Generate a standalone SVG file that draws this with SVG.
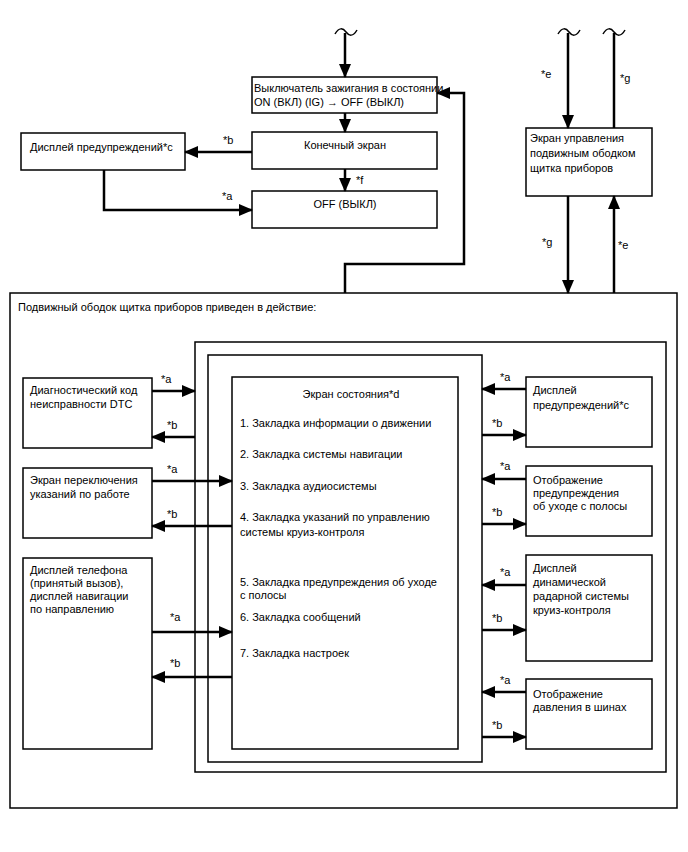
<svg xmlns="http://www.w3.org/2000/svg" width="688" height="852" viewBox="0 0 688 852">
<style>
.box{fill:#fff;stroke:#000;stroke-width:1.5}
.t{font-family:"Liberation Sans",Arial,sans-serif;font-size:11px;fill:#000}
.m{text-anchor:middle}
.c{stroke:#000;stroke-width:2.5;fill:none}
.tl{stroke:#000;stroke-width:1.5;fill:none}
</style>
<defs>
<marker id="ar" markerUnits="userSpaceOnUse" markerWidth="14" markerHeight="12" viewBox="0 0 14 12" refX="13" refY="6" orient="auto">
<path d="M0,0 L14,6 L0,12 z" fill="#000"/>
</marker>
</defs>
<rect width="688" height="852" fill="#fff"/>

<g id="frame-outer">
<rect class="box" x="10" y="293" width="667" height="515"/>
<text class="t" x="18" y="311">Подвижный ободок щитка приборов приведен в действие:</text>
</g>
<g id="frame-2"><rect class="box" x="195" y="342" width="471" height="430"/></g>
<g id="frame-3"><rect class="box" x="208" y="355" width="274" height="407"/></g>

<g id="n-status">
<rect class="box" x="232" y="377" width="226" height="372"/>
<text class="t m" x="351" y="398">Экран состояния*d</text>
<text class="t" x="240" y="427">1. Закладка информации о движении</text>
<text class="t" x="240" y="458">2. Закладка системы навигации</text>
<text class="t" x="240" y="490">3. Закладка аудиосистемы</text>
<text class="t" x="240" y="521">4. Закладка указаний по управлению</text>
<text class="t" x="240" y="536">системы круиз-контроля</text>
<text class="t" x="240" y="586">5. Закладка предупреждения об уходе</text>
<text class="t" x="240" y="599">с полосы</text>
<text class="t" x="240" y="621">6. Закладка сообщений</text>
<text class="t" x="240" y="657">7. Закладка настроек</text>
</g>

<g id="n-ign">
<rect class="box" x="252" y="77" width="185" height="36"/>
<text class="t" x="254" y="92">Выключатель зажигания в состоянии</text>
<text class="t" x="254" y="106">ON (ВКЛ) (IG) → OFF (ВЫКЛ)</text>
</g>
<g id="n-final">
<rect class="box" x="252" y="132" width="185" height="37"/>
<text class="t m" x="345" y="149">Конечный экран</text>
</g>
<g id="n-warn-top">
<rect class="box" x="21" y="133" width="164" height="37"/>
<text class="t" x="30" y="151">Дисплей предупреждений*c</text>
</g>
<g id="n-off">
<rect class="box" x="252" y="191" width="185" height="37"/>
<text class="t m" x="345" y="208">OFF (ВЫКЛ)</text>
</g>
<g id="n-bezel">
<rect class="box" x="526" y="128" width="126" height="68"/>
<text class="t" x="530" y="142">Экран управления</text>
<text class="t" x="530" y="157">подвижным ободком</text>
<text class="t" x="530" y="172">щитка приборов</text>
</g>

<g id="n-dtc">
<rect class="box" x="23" y="378" width="129" height="70"/>
<text class="t" x="30" y="394">Диагностический код</text>
<text class="t" x="30" y="408">неисправности DTC</text>
</g>
<g id="n-guide">
<rect class="box" x="23" y="468" width="129" height="70"/>
<text class="t" x="30" y="484">Экран переключения</text>
<text class="t" x="30" y="498">указаний по работе</text>
</g>
<g id="n-phone">
<rect class="box" x="23" y="558" width="129" height="191"/>
<text class="t" x="30" y="574">Дисплей телефона</text>
<text class="t" x="30" y="587">(принятый вызов),</text>
<text class="t" x="30" y="600">дисплей навигации</text>
<text class="t" x="30" y="613">по направлению</text>
</g>

<g id="n-warn-right">
<rect class="box" x="526" y="377" width="126" height="70"/>
<text class="t" x="533" y="394">Дисплей</text>
<text class="t" x="533" y="409">предупреждений*c</text>
</g>
<g id="n-lane">
<rect class="box" x="526" y="466" width="126" height="70"/>
<text class="t" x="533" y="484">Отображение</text>
<text class="t" x="533" y="497">предупреждения</text>
<text class="t" x="533" y="510">об уходе с полосы</text>
</g>
<g id="n-radar">
<rect class="box" x="526" y="555" width="126" height="106"/>
<text class="t" x="533" y="572">Дисплей</text>
<text class="t" x="533" y="586">динамической</text>
<text class="t" x="533" y="600">радарной системы</text>
<text class="t" x="533" y="614">круиз-контроля</text>
</g>
<g id="n-tire">
<rect class="box" x="526" y="679" width="126" height="70"/>
<text class="t" x="533" y="698">Отображение</text>
<text class="t" x="533" y="711">давления в шинах</text>
</g>

<g id="connectors">
<path class="tl" d="M335,34 C339,27 343,28 346,32 C349,36 353,37 357,30"/>
<path class="tl" d="M558,34 C562,27 566,28 569,32 C572,36 576,37 580,30"/>
<path class="tl" d="M603,34 C607,27 611,28 614,32 C617,36 621,37 625,30"/>
<path class="c" d="M345,33 V77" marker-end="url(#ar)"/>
<path class="c" d="M345,113 V132" marker-end="url(#ar)"/>
<path class="c" d="M252,152 H185" marker-end="url(#ar)"/>
<path class="c" d="M345,169 V191" marker-end="url(#ar)"/>
<path class="c" d="M104,170 V210 H252" marker-end="url(#ar)"/>
<path class="c" d="M345,293 V264 H464 V93 H437" marker-end="url(#ar)"/>
<text class="t" x="223" y="144">*b</text>
<text class="t" x="356" y="184">*f</text>
<text class="t" x="222" y="200">*a</text>

<path class="c" d="M568,33 V128" marker-end="url(#ar)"/>
<path class="c" d="M614,128 V33"/>
<path class="c" d="M568,196 V293" marker-end="url(#ar)"/>
<path class="c" d="M614,293 V196" marker-end="url(#ar)"/>
<text class="t" x="541" y="78">*e</text>
<text class="t" x="620" y="82">*g</text>
<text class="t" x="542" y="246">*g</text>
<text class="t" x="618" y="249">*e</text>

<path class="c" d="M152,391 H195" marker-end="url(#ar)"/>
<path class="c" d="M195,437 H152" marker-end="url(#ar)"/>
<path class="c" d="M152,481 H232" marker-end="url(#ar)"/>
<path class="c" d="M232,526 H152" marker-end="url(#ar)"/>
<path class="c" d="M152,632 H232" marker-end="url(#ar)"/>
<path class="c" d="M232,677 H152" marker-end="url(#ar)"/>
<text class="t" x="161" y="383">*a</text>
<text class="t" x="167" y="429">*b</text>
<text class="t" x="167" y="473">*a</text>
<text class="t" x="167" y="518">*b</text>
<text class="t" x="170" y="621">*a</text>
<text class="t" x="170" y="667">*b</text>

<path class="c" d="M526,389 H482" marker-end="url(#ar)"/>
<path class="c" d="M482,435 H526" marker-end="url(#ar)"/>
<path class="c" d="M526,479 H482" marker-end="url(#ar)"/>
<path class="c" d="M482,524 H526" marker-end="url(#ar)"/>
<path class="c" d="M526,585 H482" marker-end="url(#ar)"/>
<path class="c" d="M482,630 H526" marker-end="url(#ar)"/>
<path class="c" d="M526,692 H482" marker-end="url(#ar)"/>
<path class="c" d="M482,737 H526" marker-end="url(#ar)"/>
<text class="t" x="500" y="381">*a</text>
<text class="t" x="492" y="427">*b</text>
<text class="t" x="500" y="470">*a</text>
<text class="t" x="492" y="516">*b</text>
<text class="t" x="500" y="576">*a</text>
<text class="t" x="492" y="622">*b</text>
<text class="t" x="500" y="684">*a</text>
<text class="t" x="492" y="729">*b</text>
</g>
</svg>
